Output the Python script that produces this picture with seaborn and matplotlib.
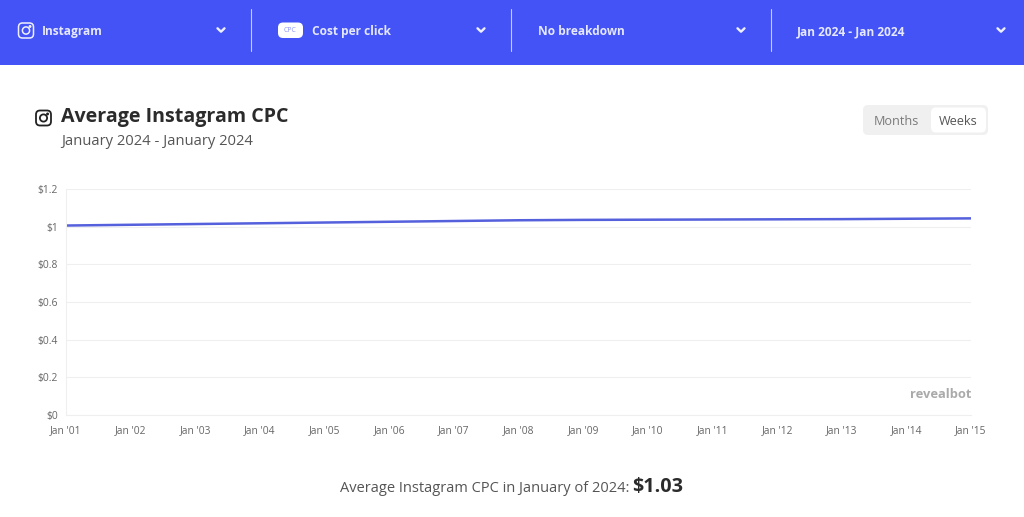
import matplotlib
matplotlib.use("Agg")
import matplotlib.pyplot as plt
import matplotlib.patches as mpatches
import pandas as pd
import seaborn as sns

days = ["Jan '01", "Jan '02", "Jan '03", "Jan '04", "Jan '05", "Jan '06", "Jan '07", "Jan '08",
        "Jan '09", "Jan '10", "Jan '11", "Jan '12", "Jan '13", "Jan '14", "Jan '15"]
cpc = [1.006, 1.010, 1.014, 1.018, 1.022, 1.026, 1.030, 1.034,
       1.036, 1.037, 1.038, 1.039, 1.040, 1.042, 1.044]
y_ticks = [0, 0.2, 0.4, 0.6, 0.8, 1, 1.2]
y_labels = ["$0", "$0.2", "$0.4", "$0.6", "$0.8", "$1", "$1.2"]

sns.set_theme(style="white")
plt.rcParams["font.family"] = ["Open Sans", "DejaVu Sans"]
plt.rcParams["text.parse_math"] = False

BLUE = "#4353f5"
W, H = 1024, 517

fig = plt.figure(figsize=(W / 100, H / 100), dpi=100, facecolor="white")

# ---------- chart ----------
ax = fig.add_axes([66 / W, (H - 415) / H, 905 / W, 226 / H])
df = pd.DataFrame({"day": range(len(days)), "cpc": cpc})
sns.lineplot(data=df, x="day", y="cpc", color="#5560dc", linewidth=1.8, ax=ax, errorbar=None)
ax.set_xlim(0, len(days) - 1)
ax.set_ylim(0, 1.2)
ax.set_xticks(range(len(days)))
ax.set_xticklabels(days, fontsize=7.4, color="#666666")
ax.set_yticks(y_ticks)
ax.set_yticklabels(y_labels, fontsize=7.4, color="#666666")
ax.set_xlabel("")
ax.set_ylabel("")
ax.grid(axis="y", color="#efefef", linewidth=0.8)
ax.set_axisbelow(True)
ax.tick_params(axis="x", length=0, pad=7.5)
ax.tick_params(axis="y", length=0, pad=6)
for side in ["top", "right"]:
    ax.spines[side].set_visible(False)
for side in ["left", "bottom"]:
    ax.spines[side].set_color("#efefef")
    ax.spines[side].set_linewidth(0.8)
ax.text(1, 0.09, "revealbot", transform=ax.transAxes, ha="right", va="center",
        fontsize=9.3, fontweight="bold", color="#aaaaaa")

# ---------- page chrome, drawn in pixel coordinates ----------
ui = fig.add_axes([0, 0, 1, 1], zorder=5)
ui.set_xlim(0, W)
ui.set_ylim(H, 0)
ui.axis("off")
ui.patch.set_alpha(0)


def rounded(x, y, w, h, r, **kw):
    ui.add_patch(mpatches.FancyBboxPatch((x + r, y + r), w - 2 * r, h - 2 * r,
                                         boxstyle=f"round,pad={r},rounding_size={r}", **kw))


def insta(x, y, size, color, lw):
    rounded(x, y, size, size, size * 0.27, fill=False, edgecolor=color, linewidth=lw)
    ui.add_patch(mpatches.Circle((x + size / 2, y + size / 2), size * 0.24,
                                 fill=False, edgecolor=color, linewidth=lw))
    ui.add_patch(mpatches.Circle((x + size * 0.77, y + size * 0.23), size * 0.05, color=color))


def chevron(x, y):
    ui.plot([x - 3.5, x, x + 3.5], [y - 1.7, y + 1.7, y - 1.7], color="#eef0ff", linewidth=1.7,
            solid_capstyle="round", solid_joinstyle="round")


ui.add_patch(mpatches.Rectangle((0, 0), W, 65, color=BLUE, linewidth=0))
for sep_x in [251, 511, 771]:
    ui.plot([sep_x, sep_x], [9, 51], color="#c6cbfb", linewidth=0.8)
for chev_x in [221, 481, 741, 1001]:
    chevron(chev_x, 30)

insta(18.5, 23, 15, "#eef0ff", 1.1)
rounded(278, 22.5, 25, 15.5, 5, facecolor="white", edgecolor="none")
ui.text(290.5, 30.5, "CPC", fontsize=5, color="#8f98f8", ha="center", va="center")

menu = [(42, "Instagram"), (311.5, "Cost per click"), (537.5, "No breakdown"), (797, "Jan 2024 - Jan 2024")]
for menu_x, label in menu:
    ui.text(menu_x, 35, label, fontsize=8.6, fontweight="bold", color="#e6e8ff", va="baseline")

insta(36, 110.5, 15, "#222222", 1.3)
ui.text(61, 117, "Average Instagram CPC", fontsize=14.1, fontweight="bold", color="#2b2b2b", va="center")
ui.text(61, 145, "January 2024 - January 2024", fontsize=10.6, color="#555555", va="baseline")

# months / weeks toggle
rounded(863, 105, 125, 30, 5, facecolor="#f0f0f0", edgecolor="none")
rounded(931, 107.5, 55, 25, 5, facecolor="white", edgecolor="none")
ui.text(896, 125, "Months", fontsize=9.1, color="#7a7a7a", ha="center", va="baseline")
ui.text(958.5, 125, "Weeks", fontsize=9.1, color="#555555", ha="center", va="baseline")

# summary line
ui.text(629, 492, "Average Instagram CPC in January of 2024:", fontsize=10.5, color="#555555", ha="right", va="baseline")
ui.text(632.5, 492, "$1.03", fontsize=14.2, fontweight="bold", color="#2b2b2b", ha="left", va="baseline")

fig.savefig("out.png", dpi=100, facecolor="white")
